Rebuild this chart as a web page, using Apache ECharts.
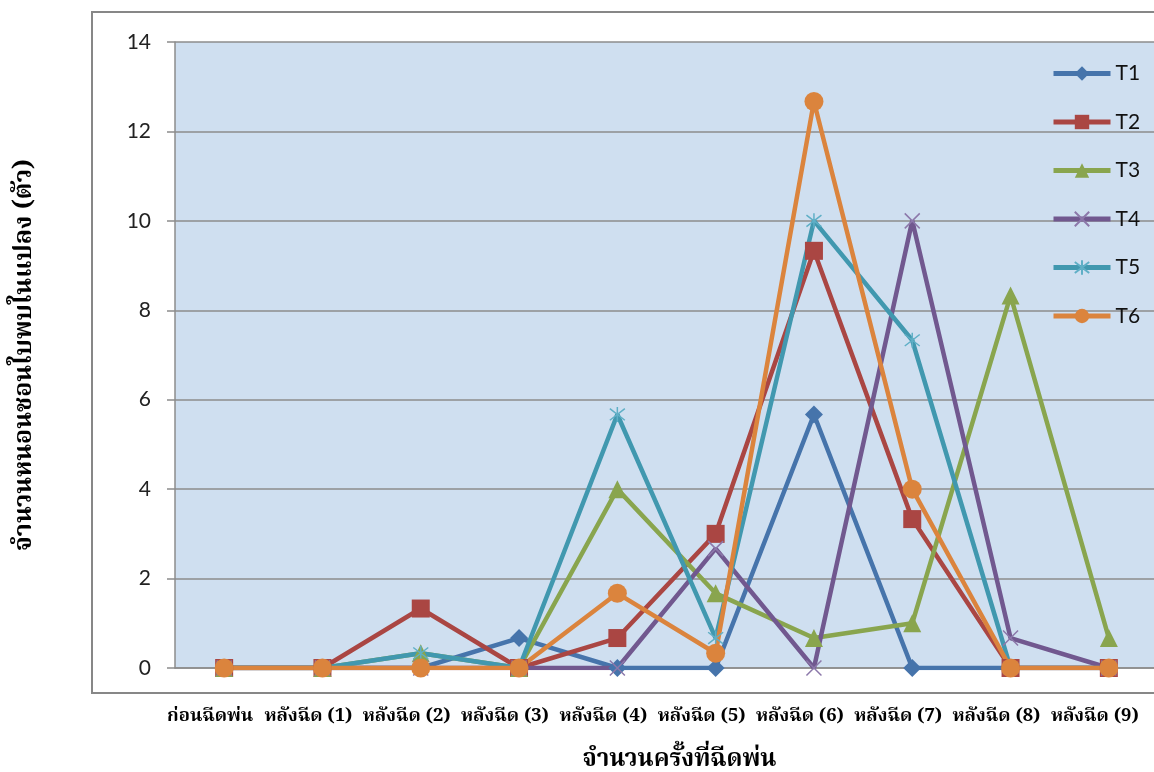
<!DOCTYPE html>
<html>
<head>
<meta charset="utf-8">
<script src="https://cdn.jsdelivr.net/npm/echarts@6/dist/echarts.min.js"></script>
<style>
  html, body { margin: 0; padding: 0; background: #ffffff; }
  #chart { width: 1154px; height: 772px; }
</style>
</head>
<body>
<div id="chart"></div>
<script>
// Spraying rounds (x axis)
const categories = ['ก่อนฉีดพ่น', 'หลังฉีด (1)', 'หลังฉีด (2)', 'หลังฉีด (3)', 'หลังฉีด (4)',
                    'หลังฉีด (5)', 'หลังฉีด (6)', 'หลังฉีด (7)', 'หลังฉีด (8)', 'หลังฉีด (9)'];

// Leaf-miner counts per plot, one array per treatment
const T1 = [0, 0, 0, 0.67, 0, 0, 5.67, 0, 0, 0];
const T2 = [0, 0, 1.33, 0, 0.67, 3, 9.33, 3.33, 0, 0];
const T3 = [0, 0, 0.33, 0, 4, 1.67, 0.67, 1, 8.33, 0.67];
const T4 = [0, 0, 0, 0, 0, 2.67, 0, 10, 0.67, 0];
const T5 = [0, 0, 0.33, 0, 5.67, 0.67, 10, 7.33, 0, 0];
const T6 = [0, 0, 0, 0, 1.67, 0.33, 12.67, 4, 0, 0];

const yTicks = { min: 0, max: 14, interval: 2 };

const thaiFont = '"Noto Serif Thai", "Noto Sans Thai", "Liberation Serif", serif';
const numFont = 'Lato, "Open Sans", sans-serif';

const crossPath = 'path://M0,0L10,10M10,0L0,10';
const starPath = 'path://M0,0L10,10M10,0L0,10M5,-1.5L5,11.5';

function makeSeries(name, data, color, symbol, size, thin) {
  return {
    name: name,
    type: 'line',
    data: data,
    symbol: symbol,
    symbolSize: size,
    showAllSymbol: true,
    lineStyle: { color: color, width: 4.5 },
    itemStyle: thin
      ? { color: 'rgba(0,0,0,0)', borderColor: thin, borderWidth: 1.5 }
      : { color: color, borderWidth: 0 },
    emphasis: { disabled: true },
    animation: false
  };
}

const chart = echarts.init(document.getElementById('chart'), null, { renderer: 'canvas' });

chart.setOption({
  backgroundColor: '#ffffff',
  animation: false,
  graphic: [{
    type: 'rect',
    z: -10,
    shape: { x: 92, y: 12, width: 1100, height: 681 },
    style: { fill: 'none', stroke: '#878787', lineWidth: 2 }
  }],
  grid: {
    left: 175, top: 42, width: 983, height: 626,
    containLabel: false,
    outerBoundsMode: 'none',
    show: true, backgroundColor: '#CFDFF0', borderWidth: 0
  },
  legend: {
    orient: 'vertical',
    left: 1046, top: 58,
    itemWidth: 57, itemHeight: 18,
    itemGap: 27.5,
    lineStyle: { width: 5 },
    textStyle: { fontFamily: numFont, fontSize: 21, color: '#111' },
    data: ['T1', 'T2', 'T3', 'T4', 'T5', 'T6']
  },
  xAxis: {
    type: 'category',
    data: categories,
    boundaryGap: true,
    axisLine: { lineStyle: { color: '#8c8c8c', width: 1.5 } },
    axisTick: { show: false },
    axisLabel: {
      interval: 0, margin: 40,
      padding: [0, 28, 0, 0],
      fontFamily: thaiFont, fontWeight: 'bold', fontSize: 18.5, color: '#000'
    },
    name: 'จำนวนครั้งที่ฉีดพ่น',
    nameLocation: 'middle',
    nameGap: 82,
    nameTextStyle: { fontFamily: thaiFont, fontWeight: 'bold', fontSize: 24, color: '#000', padding: [0, 0, 0, 26] }
  },
  yAxis: {
    type: 'value',
    min: yTicks.min, max: yTicks.max, interval: yTicks.interval,
    axisLine: { show: true, lineStyle: { color: '#8c8c8c', width: 1.5 } },
    axisTick: { show: true, length: 8, lineStyle: { color: '#8c8c8c', width: 1.5 } },
    splitLine: { lineStyle: { color: '#8c8c8c', width: 1.5 } },
    axisLabel: { margin: 24, fontFamily: numFont, fontSize: 21, color: '#222' },
    name: 'จำนวนหนอนชอนใบพบในแปลง (ตัว)',
    nameLocation: 'middle',
    nameGap: 136,
    nameRotate: 90,
    nameTextStyle: { fontFamily: thaiFont, fontWeight: 'bold', fontSize: 25, color: '#000' }
  },
  series: [
    makeSeries('T1', T1, '#4674AB', 'diamond', 18),
    makeSeries('T2', T2, '#AA4643', 'rect', 18),
    makeSeries('T3', T3, '#89A54E', 'triangle', 18),
    makeSeries('T4', T4, '#71588F', crossPath, 15, '#8C78AA'),
    makeSeries('T5', T5, '#4198AF', starPath, 15, '#5FAFC6'),
    makeSeries('T6', T6, '#DB843D', 'circle', 19)
  ]
});
</script>
</body>
</html>
